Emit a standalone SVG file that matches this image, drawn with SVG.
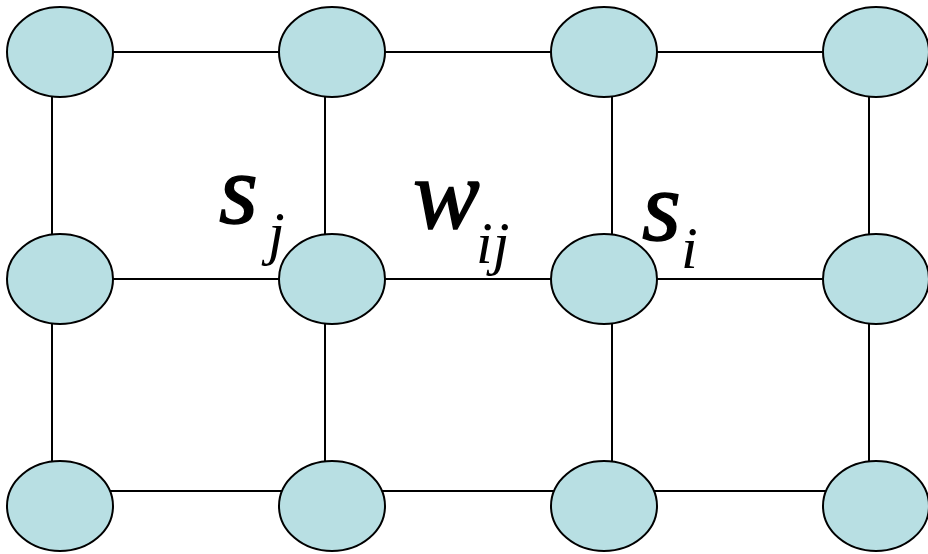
<svg xmlns="http://www.w3.org/2000/svg" width="928" height="554" viewBox="0 0 928 554">
<style>
.node{fill:#b8dfe3;stroke:#000;stroke-width:2}
.edge{stroke:#000;stroke-width:2;fill:none}
.m{font-family:'Liberation Serif','Times New Roman',serif;font-style:italic;fill:#000}
.b{font-size:100px;stroke:#000;stroke-width:1.5}
.sub{font-size:60px}
</style>
<rect width="928" height="554" fill="#fff"/>
<g id="connectors">
<line class="edge" x1="60" y1="52" x2="876" y2="52"/>
<line class="edge" x1="60" y1="279" x2="876" y2="279"/>
<line class="edge" x1="60" y1="491" x2="876" y2="491"/>
<line class="edge" x1="52" y1="52" x2="52" y2="506"/>
<line class="edge" x1="325" y1="52" x2="325" y2="506"/>
<line class="edge" x1="612" y1="52" x2="612" y2="506"/>
<line class="edge" x1="869" y1="52" x2="869" y2="506"/>
</g>
<g id="n11"><ellipse class="node" cx="60" cy="52" rx="53" ry="45"/></g>
<g id="n12"><ellipse class="node" cx="332" cy="52" rx="53" ry="45"/></g>
<g id="n13"><ellipse class="node" cx="604" cy="52" rx="53" ry="45"/></g>
<g id="n14"><ellipse class="node" cx="876" cy="52" rx="53" ry="45"/></g>
<g id="n21"><ellipse class="node" cx="60" cy="279" rx="53" ry="45"/></g>
<g id="n22"><ellipse class="node" cx="332" cy="279" rx="53" ry="45"/></g>
<g id="n23"><ellipse class="node" cx="604" cy="279" rx="53" ry="45"/></g>
<g id="n24"><ellipse class="node" cx="876" cy="279" rx="53" ry="45"/></g>
<g id="n31"><ellipse class="node" cx="60" cy="506" rx="53" ry="45"/></g>
<g id="n32"><ellipse class="node" cx="332" cy="506" rx="53" ry="45"/></g>
<g id="n33"><ellipse class="node" cx="604" cy="506" rx="53" ry="45"/></g>
<g id="n34"><ellipse class="node" cx="876" cy="506" rx="53" ry="45"/></g>
<g id="labels">
<text class="m b" x="219" y="223">s</text>
<text class="m sub" x="268" y="253">j</text>
<text class="m b" x="413" y="228">w</text>
<text class="m sub" x="476" y="263">ij</text>
<text class="m b" x="642" y="240">s</text>
<text class="m sub" x="681" y="268">i</text>
</g>
</svg>
